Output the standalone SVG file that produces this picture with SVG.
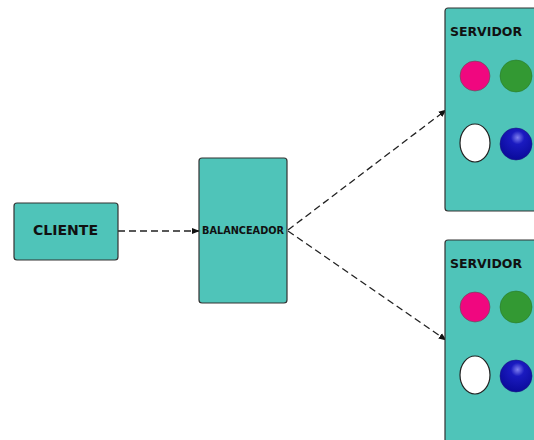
<svg xmlns="http://www.w3.org/2000/svg" width="534" height="440" viewBox="0 0 534 440">
<defs>
<style>
.box{fill:#4fc4b9;stroke:#333;stroke-width:1.2}
.lbl{font-family:"DejaVu Sans Condensed","DejaVu Sans","Liberation Sans",sans-serif;font-weight:bold;fill:#111}
.edge{fill:none;stroke:#222;stroke-width:1.3;stroke-dasharray:7 4}
.pink{fill:#f0077f;stroke:#555;stroke-width:0.6}
.green{fill:#339933;stroke:#2a7a2a;stroke-width:0.6}
.white{fill:#fff;stroke:#222;stroke-width:1.2}
.blue{fill:url(#bg);stroke:#1a1a80;stroke-width:0.6}
</style>
<radialGradient id="bg" cx="0.55" cy="0.3" r="0.7">
<stop offset="0" stop-color="#8080f0"/>
<stop offset="0.3" stop-color="#1a1ac0"/>
<stop offset="1" stop-color="#0a0a9a"/>
</radialGradient>
<marker id="arr" viewBox="0 0 10 10" refX="9" refY="5" markerWidth="8" markerHeight="8" orient="auto" markerUnits="userSpaceOnUse">
<path d="M0,1 L10,5 L0,9 z" fill="#111"/>
</marker>
</defs>
<g id="edges">
<line class="edge" x1="118" y1="231" x2="199" y2="231" marker-end="url(#arr)"/>
<line class="edge" x1="288" y1="230" x2="446" y2="110" marker-end="url(#arr)"/>
<line class="edge" x1="288" y1="231" x2="446" y2="340" marker-end="url(#arr)"/>
</g>
<g id="cliente">
<rect class="box" x="14" y="203" width="104" height="57" rx="3"/>
<text class="lbl" x="33" y="235" font-size="14" textLength="65" lengthAdjust="spacingAndGlyphs">CLIENTE</text>
</g>
<g id="balanceador">
<rect class="box" x="199" y="158" width="88" height="145" rx="3"/>
<text class="lbl" x="202" y="234" font-size="11" textLength="82" lengthAdjust="spacingAndGlyphs">BALANCEADOR</text>
</g>
<g id="servidor1">
<rect class="box" x="445" y="8" width="100" height="203" rx="3"/>
<text class="lbl" x="450" y="36" font-size="13" textLength="72" lengthAdjust="spacingAndGlyphs">SERVIDOR</text>
<circle class="pink" cx="475" cy="76" r="15"/>
<circle class="green" cx="516" cy="76" r="16"/>
<ellipse class="white" cx="475" cy="143" rx="15" ry="19"/>
<circle class="blue" cx="516" cy="144" r="16"/>
</g>
<g id="servidor2">
<rect class="box" x="445" y="240" width="100" height="210" rx="3"/>
<text class="lbl" x="450" y="268" font-size="13" textLength="72" lengthAdjust="spacingAndGlyphs">SERVIDOR</text>
<circle class="pink" cx="475" cy="307" r="15"/>
<circle class="green" cx="516" cy="307" r="16"/>
<ellipse class="white" cx="475" cy="375" rx="15" ry="19"/>
<circle class="blue" cx="516" cy="376" r="16"/>
</g>
</svg>
